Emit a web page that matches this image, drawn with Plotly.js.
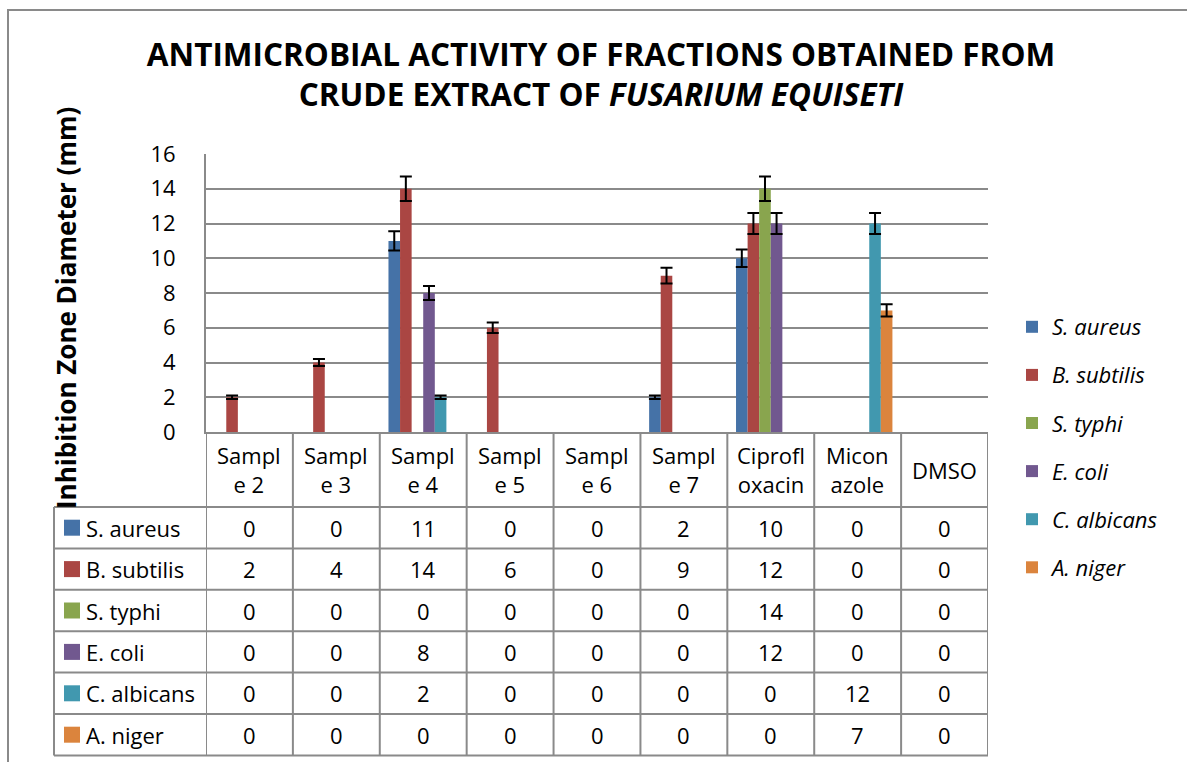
<!DOCTYPE html>
<html>
<head>
<meta charset="utf-8">
<script src="https://cdn.plot.ly/plotly-3.0.1.min.js"></script>
<style>html,body{margin:0;padding:0;background:#fff;}#chart{width:1187px;height:762px;}</style>
</head>
<body>
<div id="chart"></div>
<script>
// ---- data ----
const categories = ['Sample 2', 'Sample 3', 'Sample 4', 'Sample 5', 'Sample 6', 'Sample 7', 'Ciprofloxacin', 'Miconazole', 'DMSO'];
const headerLabels = ['Sampl<br>e 2', 'Sampl<br>e 3', 'Sampl<br>e 4', 'Sampl<br>e 5', 'Sampl<br>e 6', 'Sampl<br>e 7', 'Ciprofl<br>oxacin', 'Micon<br>azole', 'DMSO'];
const seriesNames = ['S. aureus', 'B. subtilis', 'S. typhi', 'E. coli', 'C. albicans', 'A. niger'];
const sAureus   = [0, 0, 11, 0, 0, 2, 10, 0, 0];
const bSubtilis = [2, 4, 14, 6, 0, 9, 12, 0, 0];
const sTyphi    = [0, 0, 0, 0, 0, 0, 14, 0, 0];
const eColi     = [0, 0, 8, 0, 0, 0, 12, 0, 0];
const cAlbicans = [0, 0, 2, 0, 0, 0, 0, 12, 0];
const aNiger    = [0, 0, 0, 0, 0, 0, 0, 7, 0];
const errorPercent = 5;
const yTicks = [0, 2, 4, 6, 8, 10, 12, 14, 16];
const yTitle = 'Inhibition Zone Diameter (mm)';

const seriesValues = [sAureus, bSubtilis, sTyphi, eColi, cAlbicans, aNiger];
const colors = ['#4572A7', '#AA4643', '#89A54E', '#71588F', '#4198AF', '#DB843D'];

// ---- geometry (px) ----
const W = 1187, H = 762;
const PL = 206, PR = 988, PT = 154, PB = 432;
const xp = px => (px - PL) / (PR - PL);
const yp = py => (PB - py) / (PB - PT);
const gray = '#8a8a8a';
const FONT = 'Open Sans, sans-serif';

const headerBottom = 507;
const rowH = 41.4;
const rowLines = [];
for (let i = 0; i <= seriesNames.length; i++) rowLines.push(headerBottom + i * rowH);
const tableBottom = rowLines[rowLines.length - 1];
const tableLeft = 54;

// zero-height bars are not drawn (so no error cap is drawn for them)
const traces = seriesNames.map((n, i) => ({
  type: 'bar', name: n, x: categories, y: seriesValues[i].map(v => (v === 0 ? null : v)),
  marker: {color: colors[i]}, legendgroup: n,
  error_y: {type: 'percent', value: errorPercent, color: '#000', thickness: 2, width: 6},
  hoverinfo: 'x+y+name'
}));

const shapes = [];
const annotations = [];
// outer chart border
shapes.push({type: 'rect', xref: 'paper', yref: 'paper', x0: xp(8), x1: xp(1210), y0: yp(10), y1: yp(800),
  line: {color: gray, width: 2}, layer: 'below'});
// horizontal table lines
rowLines.forEach(py => shapes.push({type: 'line', xref: 'paper', yref: 'paper', x0: xp(tableLeft), x1: 1, y0: yp(py), y1: yp(py), line: {color: gray, width: 2}}));
// vertical lines at category boundaries
for (let i = 0; i <= categories.length; i++) {
  shapes.push({type: 'line', xref: 'x', yref: 'paper', x0: i - 0.5, x1: i - 0.5, y0: 0, y1: yp(tableBottom), line: {color: gray, width: 2}});
}
shapes.push({type: 'line', xref: 'paper', yref: 'paper', x0: xp(tableLeft), x1: xp(tableLeft), y0: yp(headerBottom), y1: yp(tableBottom), line: {color: gray, width: 2}});

// y axis title
annotations.push({xref: 'paper', yref: 'paper', x: xp(66), y: yp(308), text: '<b>' + yTitle + '</b>', textangle: -90,
  showarrow: false, xanchor: 'center', yanchor: 'middle', font: {family: FONT, size: 26, color: '#000'}});

// header labels
categories.forEach((c, j) => annotations.push({xref: 'x', yref: 'paper', x: c, y: yp((PB + headerBottom) / 2),
  text: headerLabels[j], showarrow: false, xanchor: 'center', yanchor: 'middle', font: {family: FONT, size: 22, color: '#000'}}));
// rows
seriesNames.forEach((n, r) => {
  const cy = rowLines[r] + rowH / 2;
  shapes.push({type: 'rect', xref: 'paper', yref: 'paper', x0: xp(64), x1: xp(80), y0: yp(cy - 8), y1: yp(cy + 8),
    line: {width: 0}, fillcolor: colors[r]});
  annotations.push({xref: 'paper', yref: 'paper', x: xp(84), y: yp(cy), text: n, showarrow: false,
    xanchor: 'left', yanchor: 'middle', font: {family: FONT, size: 22, color: '#000'}});
  categories.forEach((c, j) => annotations.push({xref: 'x', yref: 'paper', x: c, y: yp(cy),
    text: String(seriesValues[r][j]), showarrow: false, xanchor: 'center', yanchor: 'middle',
    font: {family: FONT, size: 22, color: '#000'}}));
});

const layout = {
  width: W, height: H,
  margin: {l: PL, r: W - PR, t: PT, b: H - PB, pad: 0},
  paper_bgcolor: '#fff', plot_bgcolor: '#fff',
  font: {family: FONT, color: '#000'},
  title: {text: 'ANTIMICROBIAL ACTIVITY OF FRACTIONS OBTAINED FROM<br>CRUDE EXTRACT OF <i>FUSARIUM EQUISETI</i>',
    font: {family: FONT, size: 31.5, weight: 'bold', color: '#000'},
    xref: 'container', yref: 'container', x: 601 / W, xanchor: 'center', y: 1 - 65.5 / H, yanchor: 'middle'},
  barmode: 'group', bargap: 0.2, bargroupgap: 0,
  xaxis: {type: 'category', range: [-0.5, categories.length - 0.5], showticklabels: false, ticks: '',
    showgrid: false, zeroline: false, showline: true, linecolor: gray, linewidth: 2, fixedrange: true},
  yaxis: {range: [0, 16], tickvals: yTicks, ticks: '', ticklabelstandoff: 24,
    tickfont: {family: FONT, size: 22, color: '#000'},
    showgrid: true, gridcolor: gray, gridwidth: 2, zeroline: false, showline: true, linecolor: gray, linewidth: 2,
    fixedrange: true},
  legend: {x: xp(1012), y: yp(306), xanchor: 'left', yanchor: 'top', traceorder: 'grouped', tracegroupgap: 16.5,
    maxheight: 420,
    font: {family: FONT, size: 22, style: 'italic', color: '#000'}, bgcolor: 'rgba(0,0,0,0)'},
  shapes: shapes, annotations: annotations
};

Plotly.newPlot('chart', traces, layout, {displayModeBar: false, staticPlot: true});
</script>
</body>
</html>
